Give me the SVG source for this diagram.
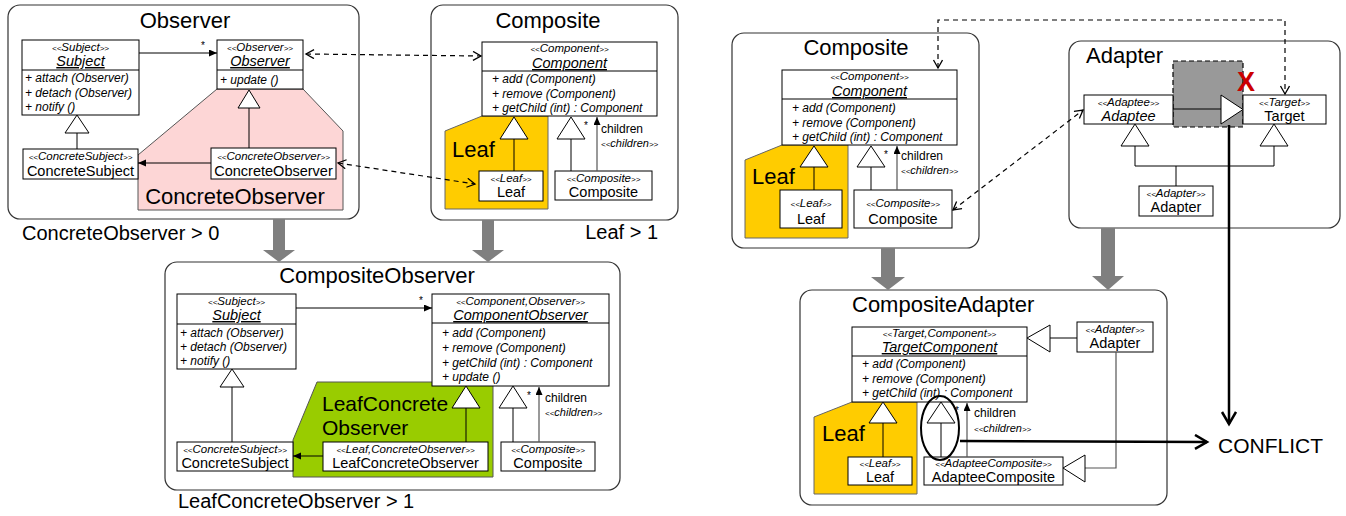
<svg xmlns="http://www.w3.org/2000/svg" width="1346" height="516" viewBox="0 0 1346 516">
  <style>
    text { font-family: "Liberation Sans", Arial, sans-serif; fill: #000; }
    .box { fill: #fff; stroke: #333; stroke-width: 1.2; }
    .cls { fill: #fff; stroke: #000; stroke-width: 1; }
    .title { font-size: 22px; }
    .big { font-size: 22px; }
    .big2 { font-size: 21px; }
    .note { font-size: 20px; }
    .st { font-size: 11.5px; font-style: italic; text-anchor: middle; }
    .br { font-size: 8px; }
    .nm { font-size: 14.5px; text-anchor: middle; }
    .abs { font-style: italic; text-decoration: underline; }
    .mt { font-size: 12px; font-style: italic; }
    .lbl { font-size: 12px; }
    .lbl-st { font-size: 11px; font-style: italic; }
    .mult { font-size: 10px; }
    .ln { stroke: #000; stroke-width: 1; fill: none; }
    .ch { stroke: #555; stroke-width: 1.2; fill: none; }
    .tri { fill: #fff; stroke: #000; stroke-width: 1; }
    .dash { stroke: #000; stroke-width: 1.2; stroke-dasharray: 5 4; fill: none; }
    .thick { stroke: #000; stroke-width: 2.5; fill: none; }
    .gray { fill: #7f7f7f; }
    .pink { fill: #fdd6d6; stroke: #555; stroke-width: 1; }
    .yellow { fill: #ffcc00; stroke: #666; stroke-width: 1; }
    .green { fill: #99cc00; stroke: #555; stroke-width: 1; }
  </style>
  <defs>
    <marker id="fa" markerUnits="userSpaceOnUse" markerWidth="9" markerHeight="8" refX="8" refY="3.5" orient="auto">
      <path d="M0,0 L8,3.5 L0,7 z" fill="#000"/>
    </marker>
    <marker id="oa" markerUnits="userSpaceOnUse" markerWidth="12" markerHeight="12" refX="9" refY="5" orient="auto-start-reverse">
      <path d="M1,0.5 L9,5 L1,9.5" fill="none" stroke="#000" stroke-width="1.3"/>
    </marker>
    <marker id="ta" markerUnits="userSpaceOnUse" markerWidth="16" markerHeight="18" refX="13" refY="8" orient="auto">
      <path d="M1,1 L13,8 L1,15" fill="none" stroke="#000" stroke-width="2.5"/>
    </marker>
  </defs>

  <!-- ===== Observer pattern ===== -->
  <g id="observer">
    <rect class="box" x="8" y="5" width="351" height="214" rx="12"/>
    <text class="title" x="185" y="28" text-anchor="middle">Observer</text>
    <polygon class="pink" points="217,89 303,89 343,131 343,210 138,210 138,155"/>
    <text class="big" x="235" y="204" text-anchor="middle">ConcreteObserver</text>
    <g id="obs-subject">
      <rect class="cls" x="22" y="40" width="117" height="75"/>
      <line class="ln" x1="22" y1="70" x2="139" y2="70"/>
      <text class="st" x="80.5" y="51"><tspan class="br">&lt;&lt;</tspan>Subject<tspan class="br">&gt;&gt;</tspan></text>
      <text class="nm abs" x="80.5" y="66">Subject</text>
      <text class="mt" x="25" y="82">+ attach (Observer)</text>
      <text class="mt" x="25" y="97">+ detach (Observer)</text>
      <text class="mt" x="25" y="111">+ notify ()</text>
    </g>
    <g id="obs-observer">
      <rect class="cls" x="217" y="40" width="86" height="49"/>
      <line class="ln" x1="217" y1="70" x2="303" y2="70"/>
      <text class="st" x="260" y="51"><tspan class="br">&lt;&lt;</tspan>Observer<tspan class="br">&gt;&gt;</tspan></text>
      <text class="nm abs" x="260" y="66">Observer</text>
      <text class="mt" x="220" y="84">+ update ()</text>
    </g>
    <g id="obs-concrete-subject">
      <rect class="cls" x="23" y="149" width="115" height="30"/>
      <text class="st" x="80.5" y="160"><tspan class="br">&lt;&lt;</tspan>ConcreteSubject<tspan class="br">&gt;&gt;</tspan></text>
      <text class="nm" x="80.5" y="176">ConcreteSubject</text>
    </g>
    <g id="obs-concrete-observer">
      <rect class="cls" x="211" y="148" width="125" height="31"/>
      <text class="st" x="273.5" y="160"><tspan class="br">&lt;&lt;</tspan>ConcreteObserver<tspan class="br">&gt;&gt;</tspan></text>
      <text class="nm" x="273.5" y="176">ConcreteObserver</text>
    </g>
    <text class="note" x="22" y="240">ConcreteObserver &gt; 0</text>
  </g>

  <!-- ===== Composite pattern (left) ===== -->
  <g id="composite-left">
    <rect class="box" x="431" y="5" width="247" height="215" rx="12"/>
    <text class="title" x="548" y="28" text-anchor="middle">Composite</text>
    <polygon class="yellow" points="482,116 548,116 548,209 445,209 445,131"/>
    <text class="big" x="452" y="157">Leaf</text>
    <g id="cl-component">
      <rect class="cls" x="482" y="42" width="175" height="74"/>
      <line class="ln" x1="482" y1="71" x2="657" y2="71"/>
      <text class="st" x="569.5" y="52"><tspan class="br">&lt;&lt;</tspan>Component<tspan class="br">&gt;&gt;</tspan></text>
      <text class="nm abs" x="569.5" y="68">Component</text>
      <text class="mt" x="492" y="83">+ add (Component)</text>
      <text class="mt" x="492" y="98">+ remove (Component)</text>
      <text class="mt" x="492" y="112">+ getChild (int) : Component</text>
    </g>
    <g id="cl-leaf">
      <rect class="cls" x="479" y="171" width="64" height="30"/>
      <text class="st" x="511" y="182"><tspan class="br">&lt;&lt;</tspan>Leaf<tspan class="br">&gt;&gt;</tspan></text>
      <text class="nm" x="511" y="197">Leaf</text>
    </g>
    <g id="cl-composite">
      <rect class="cls" x="555" y="171" width="97" height="29"/>
      <text class="st" x="603.5" y="182"><tspan class="br">&lt;&lt;</tspan>Composite<tspan class="br">&gt;&gt;</tspan></text>
      <text class="nm" x="603.5" y="197">Composite</text>
    </g>
    <text class="note" x="658" y="239" text-anchor="end">Leaf &gt; 1</text>
  </g>

  <!-- ===== CompositeObserver ===== -->
  <g id="composite-observer">
    <rect class="box" x="165" y="262" width="455" height="228" rx="12"/>
    <text class="title" x="377" y="283" text-anchor="middle">CompositeObserver</text>
    <polygon class="green" points="317,382 493,382 493,477 293,477 293,440"/>
    <text class="big2" x="322" y="411">LeafConcrete</text>
    <text class="big2" x="322" y="435">Observer</text>
    <g id="co-subject">
      <rect class="cls" x="177" y="294" width="119" height="75"/>
      <line class="ln" x1="177" y1="324" x2="296" y2="324"/>
      <text class="st" x="236.5" y="305"><tspan class="br">&lt;&lt;</tspan>Subject<tspan class="br">&gt;&gt;</tspan></text>
      <text class="nm abs" x="236.5" y="320">Subject</text>
      <text class="mt" x="180" y="337">+ attach (Observer)</text>
      <text class="mt" x="180" y="351">+ detach (Observer)</text>
      <text class="mt" x="180" y="365">+ notify ()</text>
    </g>
    <g id="co-component-observer">
      <rect class="cls" x="432" y="294" width="177" height="92"/>
      <line class="ln" x1="432" y1="323" x2="609" y2="323"/>
      <text class="st" x="520.5" y="305"><tspan class="br">&lt;&lt;</tspan>Component,Observer<tspan class="br">&gt;&gt;</tspan></text>
      <text class="nm abs" x="520.5" y="320">ComponentObserver</text>
      <text class="mt" x="442" y="337">+ add (Component)</text>
      <text class="mt" x="442" y="352">+ remove (Component)</text>
      <text class="mt" x="442" y="367">+ getChild (int) : Component</text>
      <text class="mt" x="442" y="381">+ update ()</text>
    </g>
    <g id="co-concrete-subject">
      <rect class="cls" x="177" y="442" width="116" height="29"/>
      <text class="st" x="235" y="453"><tspan class="br">&lt;&lt;</tspan>ConcreteSubject<tspan class="br">&gt;&gt;</tspan></text>
      <text class="nm" x="235" y="468">ConcreteSubject</text>
    </g>
    <g id="co-leaf-concrete-observer">
      <rect class="cls" x="323" y="442" width="165" height="29"/>
      <text class="st" x="405.5" y="453"><tspan class="br">&lt;&lt;</tspan>Leaf,ConcreteObserver<tspan class="br">&gt;&gt;</tspan></text>
      <text class="nm" x="405.5" y="468">LeafConcreteObserver</text>
    </g>
    <g id="co-composite">
      <rect class="cls" x="501" y="442" width="94" height="29"/>
      <text class="st" x="548" y="453"><tspan class="br">&lt;&lt;</tspan>Composite<tspan class="br">&gt;&gt;</tspan></text>
      <text class="nm" x="548" y="468">Composite</text>
    </g>
    <text class="note" x="178" y="508">LeafConcreteObserver &gt; 1</text>
  </g>

  <!-- ===== Composite pattern (right) ===== -->
  <g id="composite-right">
    <rect class="box" x="732" y="33" width="247" height="215" rx="12"/>
    <text class="title" x="856" y="55" text-anchor="middle">Composite</text>
    <polygon class="yellow" points="782,145 848,145 848,238 745,238 745,160"/>
    <text class="big" x="752" y="184">Leaf</text>
    <g id="cr-component">
      <rect class="cls" x="782" y="70" width="175" height="75"/>
      <line class="ln" x1="782" y1="99" x2="957" y2="99"/>
      <text class="st" x="869.5" y="80"><tspan class="br">&lt;&lt;</tspan>Component<tspan class="br">&gt;&gt;</tspan></text>
      <text class="nm abs" x="869.5" y="96">Component</text>
      <text class="mt" x="792" y="112">+ add (Component)</text>
      <text class="mt" x="792" y="127">+ remove (Component)</text>
      <text class="mt" x="792" y="141">+ getChild (int) : Component</text>
    </g>
    <g id="cr-leaf">
      <rect class="cls" x="780" y="190" width="62" height="38"/>
      <text class="st" x="811" y="207"><tspan class="br">&lt;&lt;</tspan>Leaf<tspan class="br">&gt;&gt;</tspan></text>
      <text class="nm" x="811" y="224">Leaf</text>
    </g>
    <g id="cr-composite">
      <rect class="cls" x="854" y="190" width="98" height="38"/>
      <text class="st" x="903" y="207"><tspan class="br">&lt;&lt;</tspan>Composite<tspan class="br">&gt;&gt;</tspan></text>
      <text class="nm" x="903" y="224">Composite</text>
    </g>
  </g>

  <!-- ===== Adapter pattern ===== -->
  <g id="adapter">
    <rect class="box" x="1069" y="41" width="271" height="187" rx="12"/>
    <text class="title" x="1086" y="63">Adapter</text>
    <rect x="1173" y="61" width="70" height="66" fill="#999" stroke="#000" stroke-width="1.2" stroke-dasharray="5 3"/>
    <g id="ad-adaptee">
      <rect class="cls" x="1084" y="95" width="89" height="29"/>
      <text class="st" x="1128.5" y="106"><tspan class="br">&lt;&lt;</tspan>Adaptee<tspan class="br">&gt;&gt;</tspan></text>
      <text class="nm" x="1128.5" y="121" font-style="italic">Adaptee</text>
    </g>
    <g id="ad-target">
      <rect class="cls" x="1243" y="95" width="83" height="29"/>
      <text class="st" x="1284.5" y="106"><tspan class="br">&lt;&lt;</tspan>Target<tspan class="br">&gt;&gt;</tspan></text>
      <text class="nm" x="1284.5" y="121">Target</text>
    </g>
    <g id="ad-adapter">
      <rect class="cls" x="1139" y="186" width="74" height="30"/>
      <text class="st" x="1176" y="197"><tspan class="br">&lt;&lt;</tspan>Adapter<tspan class="br">&gt;&gt;</tspan></text>
      <text class="nm" x="1176" y="212">Adapter</text>
    </g>
    <text x="1246" y="91" font-size="27" font-weight="bold" text-anchor="middle" style="fill:#cc0000">X</text>
  </g>

  <!-- ===== CompositeAdapter ===== -->
  <g id="composite-adapter">
    <rect class="box" x="800" y="290" width="367" height="215" rx="12"/>
    <text class="title" x="852" y="312">CompositeAdapter</text>
    <polygon class="yellow" points="852,402 917,402 917,494 814,494 814,417"/>
    <text class="big" x="822" y="441">Leaf</text>
    <g id="ca-target-component">
      <rect class="cls" x="852" y="327" width="175" height="75"/>
      <line class="ln" x1="852" y1="356" x2="1027" y2="356"/>
      <text class="st" x="939.5" y="337"><tspan class="br">&lt;&lt;</tspan>Target,Component<tspan class="br">&gt;&gt;</tspan></text>
      <text class="nm abs" x="939.5" y="352">TargetComponent</text>
      <text class="mt" x="862" y="368">+ add (Component)</text>
      <text class="mt" x="862" y="383">+ remove (Component)</text>
      <text class="mt" x="862" y="397">+ getChild (int) : Component</text>
    </g>
    <g id="ca-adapter">
      <rect class="cls" x="1077" y="322" width="76" height="30"/>
      <text class="st" x="1115" y="333"><tspan class="br">&lt;&lt;</tspan>Adapter<tspan class="br">&gt;&gt;</tspan></text>
      <text class="nm" x="1115" y="348">Adapter</text>
    </g>
    <g id="ca-leaf">
      <rect class="cls" x="848" y="457" width="64" height="28"/>
      <text class="st" x="880" y="467"><tspan class="br">&lt;&lt;</tspan>Leaf<tspan class="br">&gt;&gt;</tspan></text>
      <text class="nm" x="880" y="482">Leaf</text>
    </g>
    <g id="ca-adaptee-composite">
      <rect class="cls" x="924" y="457" width="139" height="28"/>
      <text class="st" x="993.5" y="467"><tspan class="br">&lt;&lt;</tspan>AdapteeComposite<tspan class="br">&gt;&gt;</tspan></text>
      <text class="nm" x="993.5" y="482">AdapteeComposite</text>
    </g>
  </g>

  <g id="conflict">
    <text x="1218" y="453" font-size="21">CONFLICT</text>
  </g>

  <!-- ===== connectors ===== -->
  <g id="connectors">
    <!-- Observer -->
    <line class="ln" x1="139" y1="53" x2="217" y2="53" marker-end="url(#fa)"/>
    <text class="mult" x="201" y="49">*</text>
    <line class="ln" x1="211" y1="163" x2="138" y2="163" marker-end="url(#fa)"/>
    <line class="ln" x1="77" y1="133" x2="77" y2="149"/>
    <polygon class="tri" points="77,115 65,133 89,133"/>
    <line class="ln" x1="249" y1="108" x2="249" y2="148"/>
    <polygon class="tri" points="249,90 238,108 260,108"/>

    <!-- Composite (left) -->
    <line class="ln" x1="514" y1="139" x2="514" y2="171"/>
    <polygon class="tri" points="514,117 500,139 528,139"/>
    <line class="ln" x1="571" y1="139" x2="571" y2="171"/>
    <polygon class="tri" points="571,117 557,139 585,139"/>
    <line class="ch" x1="597" y1="171" x2="597" y2="117" marker-end="url(#fa)"/>
    <text class="mult" x="584" y="129">*</text>
    <text class="lbl" x="601" y="133">children</text>
    <text class="lbl-st" x="601" y="147"><tspan class="br">&lt;&lt;</tspan>children<tspan class="br">&gt;&gt;</tspan></text>

    <!-- CompositeObserver -->
    <line class="ln" x1="296" y1="308" x2="432" y2="308" marker-end="url(#fa)"/>
    <text class="mult" x="419" y="304">*</text>
    <line class="ln" x1="232" y1="387" x2="232" y2="442"/>
    <polygon class="tri" points="232,369 220,387 244,387"/>
    <line class="ln" x1="323" y1="456" x2="293" y2="456" marker-end="url(#fa)"/>
    <line class="ln" x1="466" y1="408" x2="466" y2="442"/>
    <polygon class="tri" points="466,386 452,408 480,408"/>
    <line class="ln" x1="513" y1="408" x2="513" y2="442"/>
    <polygon class="tri" points="513,386 499,408 527,408"/>
    <line class="ch" x1="539" y1="442" x2="539" y2="387" marker-end="url(#fa)"/>
    <text class="mult" x="527" y="399">*</text>
    <text class="lbl" x="545" y="402">children</text>
    <text class="lbl-st" x="545" y="416"><tspan class="br">&lt;&lt;</tspan>children<tspan class="br">&gt;&gt;</tspan></text>

    <!-- Composite (right) -->
    <line class="ln" x1="814" y1="167" x2="814" y2="190"/>
    <polygon class="tri" points="814,146 800,167 828,167"/>
    <line class="ln" x1="871" y1="167" x2="871" y2="190"/>
    <polygon class="tri" points="871,146 857,167 885,167"/>
    <line class="ch" x1="897" y1="190" x2="897" y2="146" marker-end="url(#fa)"/>
    <text class="mult" x="884" y="158">*</text>
    <text class="lbl" x="901" y="160">children</text>
    <text class="lbl-st" x="901" y="174"><tspan class="br">&lt;&lt;</tspan>children<tspan class="br">&gt;&gt;</tspan></text>

    <!-- Adapter -->
    <line class="ln" x1="1173" y1="109" x2="1221" y2="109"/>
    <polygon class="tri" points="1221,95 1243,109.5 1221,124"/>
    <path class="ln" d="M1135,146 V166 H1274 V146 M1176,166 V186"/>
    <polygon class="tri" points="1135,124 1121,146 1149,146"/>
    <polygon class="tri" points="1274,124 1260,146 1288,146"/>

    <!-- CompositeAdapter -->
    <line class="ln" x1="1050" y1="338" x2="1077" y2="338"/>
    <polygon class="tri" points="1027,338 1050,325 1050,352"/>
    <line class="ln" x1="883" y1="423" x2="883" y2="457"/>
    <polygon class="tri" points="883,402 869,423 897,423"/>
    <line class="ln" x1="941" y1="423" x2="941" y2="457"/>
    <polygon class="tri" points="941,402 927,423 955,423"/>
    <line class="ch" x1="967" y1="457" x2="967" y2="403" marker-end="url(#fa)"/>
    <text class="mult" x="955" y="414">*</text>
    <text class="lbl" x="974" y="417">children</text>
    <text class="lbl-st" x="974" y="432"><tspan class="br">&lt;&lt;</tspan>children<tspan class="br">&gt;&gt;</tspan></text>
    <path class="ch" d="M1116,352 V468 H1085"/>
    <polygon class="tri" points="1063,468 1085,455 1085,482"/>
    <ellipse cx="940" cy="428" rx="19" ry="32" fill="none" stroke="#000" stroke-width="2"/>

    <!-- correspondences between patterns -->
    <line class="dash" x1="306" y1="54" x2="481" y2="56" marker-start="url(#oa)" marker-end="url(#oa)"/>
    <line class="dash" x1="338" y1="163" x2="475" y2="184" marker-start="url(#oa)" marker-end="url(#oa)"/>
    <path class="dash" d="M938,68 V20 H1285 V94" marker-start="url(#oa)" marker-end="url(#oa)"/>
    <line class="dash" x1="953" y1="210" x2="1083" y2="110" marker-start="url(#oa)" marker-end="url(#oa)"/>

    <!-- conflict -->
    <line class="thick" x1="1229" y1="125" x2="1229" y2="424" marker-end="url(#ta)"/>
    <line class="thick" x1="960" y1="441" x2="1207" y2="442" marker-end="url(#ta)"/>

    <!-- composition arrows -->
    <polygon class="gray" points="273,219 285,219 285,250 295,250 279,262 263,250 273,250"/>
    <polygon class="gray" points="482,220 494,220 494,250 504,250 488,262 472,250 482,250"/>
    <polygon class="gray" points="881,248 895,248 895,277 905,277 888,290 871,277 881,277"/>
    <polygon class="gray" points="1101,228 1115,228 1115,276 1124,276 1108,290 1092,276 1101,276"/>
  </g>
</svg>
